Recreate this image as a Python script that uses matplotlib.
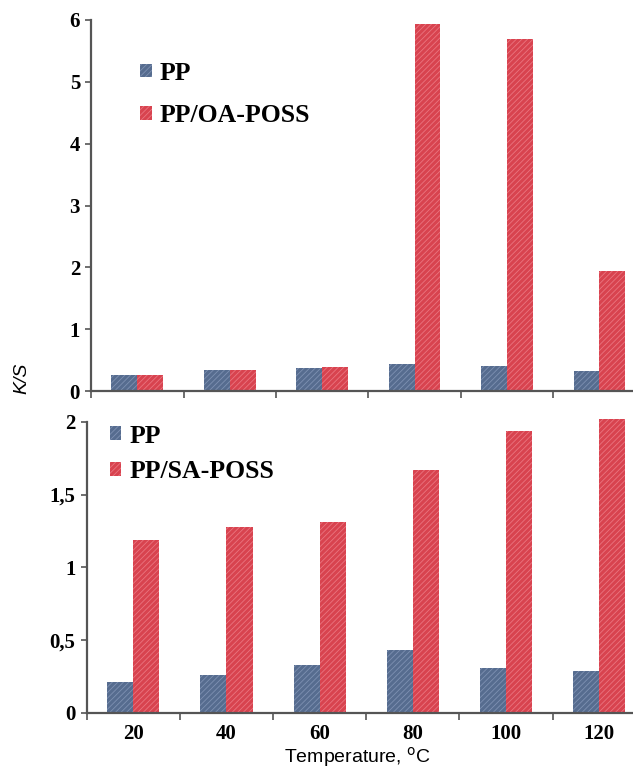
import numpy as np
import matplotlib
matplotlib.use("Agg")
import matplotlib.pyplot as plt

# data
temps = ['20', '40', '60', '80', '100', '120']
pp_top = [0.26, 0.34, 0.37, 0.44, 0.40, 0.33]
oa_poss = [0.26, 0.34, 0.39, 5.93, 5.69, 1.94]
pp_bottom = [0.21, 0.26, 0.33, 0.43, 0.31, 0.29]
sa_poss = [1.19, 1.28, 1.31, 1.67, 1.94, 2.02]

top_yticks = [0, 1, 2, 3, 4, 5, 6]
bottom_yticks = [0, 0.5, 1, 1.5, 2]
bottom_yticklabels = ['0', '0,5', '1', '1,5', '2']

blue = '#566c8f'
red = '#d8434f'
blue_hatch = '#7e91b2'
red_hatch = '#ea7580'
axis_col = '#555555'

plt.rcParams['hatch.linewidth'] = 0.6
serif = 'Liberation Serif'
sans = 'Liberation Sans'

fig = plt.figure(figsize=(6.33, 7.69), dpi=100)
ax1 = fig.add_axes([0.144, 0.4915, 0.876, 0.4825])
ax2 = fig.add_axes([0.137, 0.073, 0.883, 0.3785])

x = np.arange(len(temps))
w = 0.28


def style(ax, ymax):
    for s in ['top', 'right']:
        ax.spines[s].set_visible(False)
    for s in ['left', 'bottom']:
        ax.spines[s].set_color(axis_col)
        ax.spines[s].set_linewidth(1.6)
    ax.set_xlim(-0.5, 5.42)
    ax.set_ylim(0, ymax)
    # ticks at category boundaries
    ax.set_xticks(np.arange(-0.5, 6, 1.0))
    ax.set_xticks(x, minor=True)
    ax.tick_params(axis='x', which='major', direction='out', length=5,
                   width=1.2, color=axis_col, labelbottom=False)
    ax.tick_params(axis='x', which='minor', length=0)
    ax.tick_params(axis='y', direction='out', length=4, width=1.2,
                   color=axis_col, pad=4)
    for lab in ax.get_yticklabels():
        lab.set_fontfamily(serif)
        lab.set_fontweight('bold')
        lab.set_fontsize(15)


# top panel
ax1.bar(x - w / 2, pp_top, w, color=blue, edgecolor=blue_hatch, hatch='//////',
        linewidth=0, label='PP')
ax1.bar(x + w / 2, oa_poss, w, color=red, edgecolor=red_hatch, hatch='//////',
        linewidth=0, label='PP/OA-POSS')
ax1.set_yticks(top_yticks)
style(ax1, 6)
ax1.legend(loc='upper left', bbox_to_anchor=(0.047, 0.95), frameon=False,
           handlelength=0.45, handleheight=0.45, handletextpad=0.3,
           labelspacing=0.75,
           prop={'family': serif, 'weight': 'bold', 'size': 18.5})

# bottom panel
ax2.bar(x - w / 2, pp_bottom, w, color=blue, edgecolor=blue_hatch, hatch='//////',
        linewidth=0, label='PP')
ax2.bar(x + w / 2, sa_poss, w, color=red, edgecolor=red_hatch, hatch='//////',
        linewidth=0, label='PP/SA-POSS', clip_on=False)
ax2.set_yticks(bottom_yticks)
ax2.set_yticklabels(bottom_yticklabels)
style(ax2, 2.0)
ax2.set_xticks(x, temps, minor=True)
ax2.tick_params(axis='x', which='minor', length=0, pad=8)
for lab in ax2.get_xticklabels(minor=True):
    lab.set_fontfamily(serif)
    lab.set_fontweight('bold')
    lab.set_fontsize(15)
ax2.legend(loc='upper left', bbox_to_anchor=(0.0, 1.07), frameon=False,
           handlelength=0.45, handleheight=0.45, handletextpad=0.3,
           labelspacing=0.5,
           prop={'family': serif, 'weight': 'bold', 'size': 18.5})

fig.text(0.035, 0.508, 'K/S', rotation=90, fontsize=14, fontstyle='italic',
         family=sans, ha='center', va='center')
fig.text(0.565, 0.0, 'Temperature, $^{\\mathrm{o}}$C', fontsize=14,
         family=sans, ha='center', va='bottom')

fig.savefig('out.png', dpi=100)
